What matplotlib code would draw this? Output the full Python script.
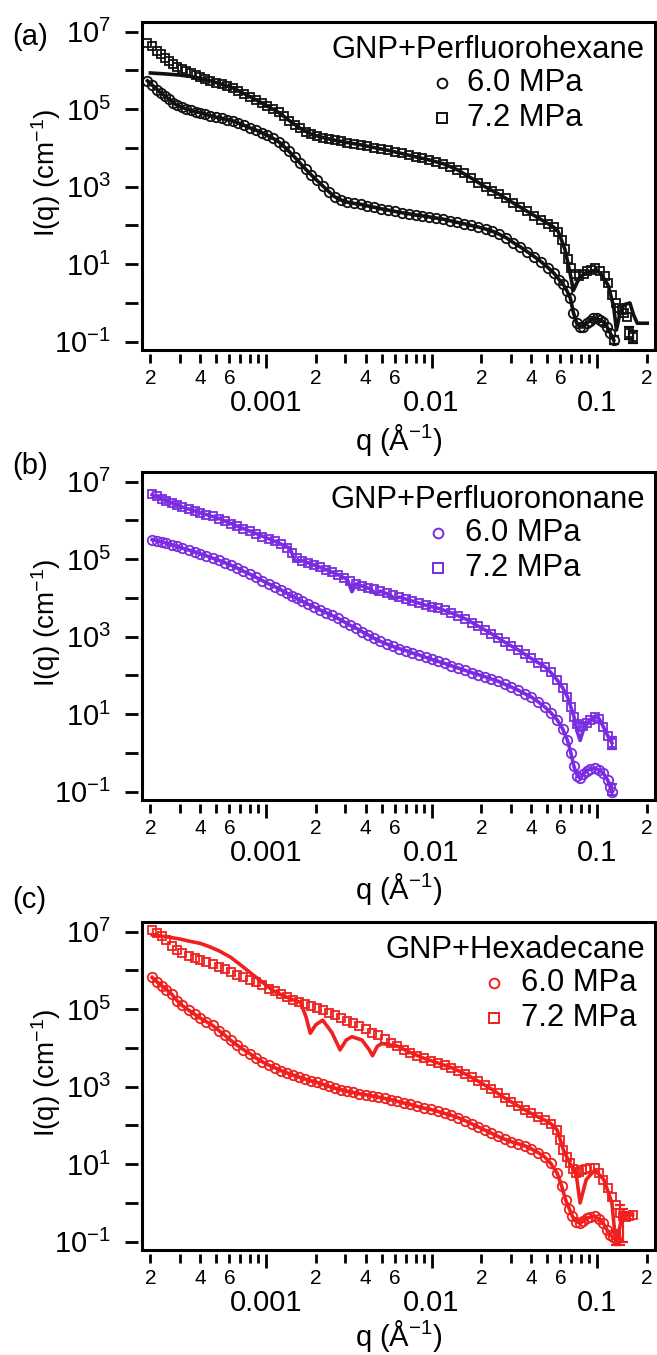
import numpy as np
import matplotlib
matplotlib.use("Agg")
import matplotlib.pyplot as plt
from matplotlib.ticker import FixedLocator, FixedFormatter, NullLocator
from matplotlib.patches import Rectangle

plt.rcParams['font.family'] = ['Liberation Sans', 'DejaVu Sans']
plt.rcParams['mathtext.fontset'] = 'custom'
plt.rcParams['mathtext.rm'] = 'Liberation Sans'
plt.rcParams['mathtext.it'] = 'Liberation Sans:italic'
plt.rcParams['mathtext.bf'] = 'Liberation Sans:bold'

# ======================= panel (a) GNP+Perfluorohexane =======================
a_q_72 = [1.92e-4, 2.05e-4, 2.2e-4, 2.32e-4, 2.45e-4, 2.6e-4, 2.75e-4, 2.9e-4, 3.1e-4, 3.3e-4,
          3.5e-4, 3.75e-4, 4.0e-4, 4.3e-4, 4.6e-4, 5.0e-4, 5.4e-4, 5.8e-4, 6.3e-4, 6.8e-4,
          7.4e-4, 8.0e-4, 8.7e-4, 9.4e-4, 1.02e-3, 1.10e-3, 1.19e-3, 1.28e-3, 1.38e-3, 1.49e-3,
          1.61e-3, 1.74e-3, 1.88e-3, 2.03e-3, 2.2e-3, 2.4e-3, 2.6e-3, 2.85e-3, 3.1e-3, 3.4e-3,
          3.75e-3, 4.1e-3, 4.5e-3, 4.95e-3, 5.45e-3, 6.0e-3, 6.6e-3, 7.3e-3, 8.0e-3, 8.8e-3,
          9.7e-3, 1.07e-2, 1.18e-2, 1.30e-2, 1.43e-2, 1.58e-2, 1.74e-2, 1.92e-2, 2.12e-2, 2.33e-2,
          2.57e-2, 2.83e-2, 3.12e-2, 3.44e-2, 3.79e-2, 4.17e-2, 4.6e-2, 5.07e-2, 5.5e-2, 5.83e-2,
          6.1e-2, 6.4e-2, 6.7e-2, 7.0e-2, 7.36e-2, 7.8e-2, 8.3e-2, 8.67e-2, 9.2e-2, 9.7e-2,
          0.104, 0.111, 0.117, 0.123, 0.131, 0.136, 0.141, 0.146, 0.151, 0.157, 0.166]
a_I_72 = [5.2e6, 4.2e6, 3.2e6, 2.6e6, 2.1e6, 1.74e6, 1.45e6, 1.26e6, 1.10e6, 9.5e5,
          8.7e5, 7.8e5, 6.9e5, 6.0e5, 5.4e5, 4.8e5, 4.4e5, 4.0e5, 3.55e5, 3.0e5,
          2.5e5, 2.1e5, 1.74e5, 1.48e5, 1.2e5, 1.0e5, 8.3e4, 6.6e4, 5.1e4, 4.0e4,
          3.2e4, 2.6e4, 2.24e4, 2.0e4, 1.86e4, 1.74e4, 1.58e4, 1.48e4, 1.38e4, 1.29e4,
          1.2e4, 1.12e4, 1.02e4, 9.3e3, 8.7e3, 7.9e3, 7.2e3, 6.6e3, 5.9e3, 5.4e3,
          4.9e3, 4.4e3, 3.9e3, 3.3e3, 2.75e3, 2.24e3, 1.66e3, 1.26e3, 9.8e2, 7.9e2,
          6.3e2, 5.0e2, 3.8e2, 3.0e2, 2.3e2, 1.78e2, 1.41e2, 1.12e2, 89, 69,
          42, 24, 14, 7.9, 5.5, 5.0, 5.5, 6.5, 7.2, 7.8,
          6.5, 5.0, 3.2, 1.6, 0.98, 0.76, 0.66, 0.55, 0.44, 0.17, 0.13]
a_fit_q_72 = [2.0e-4, 2.5e-4, 3.0e-4, 3.5e-4, 4.0e-4, 4.6e-4, 5.4e-4, 6.3e-4, 7.4e-4, 8.7e-4,
              1.02e-3, 1.19e-3, 1.38e-3, 1.61e-3, 1.88e-3, 2.2e-3, 2.6e-3, 3.1e-3, 3.75e-3, 4.5e-3,
              5.45e-3, 6.6e-3, 8.0e-3, 9.7e-3, 1.18e-2, 1.43e-2, 1.74e-2, 2.12e-2, 2.57e-2, 3.12e-2,
              3.79e-2, 4.6e-2, 5.5e-2, 5.83e-2, 6.1e-2, 6.4e-2, 6.85e-2, 7.2e-2, 7.6e-2, 8.0e-2,
              8.67e-2, 9.95e-2, 0.107, 0.117, 0.126, 0.131, 0.137, 0.145, 0.158, 0.166, 0.175, 0.201]
a_fit_I_72 = [8.6e5, 8.1e5, 7.6e5, 7.0e5, 6.3e5, 5.4e5, 4.4e5, 3.55e5, 2.5e5, 1.74e5,
              1.2e5, 8.3e4, 5.1e4, 3.2e4, 2.24e4, 1.86e4, 1.58e4, 1.38e4, 1.2e4, 1.02e4,
              8.7e3, 7.2e3, 5.9e3, 4.9e3, 3.9e3, 2.75e3, 1.66e3, 9.8e2, 6.3e2, 3.8e2,
              2.3e2, 1.41e2, 89, 69, 42, 24, 6.3, 2.1, 3.5, 4.8,
              6.3, 7.1, 5.2, 2.8, 0.8, 0.2, 0.5, 0.9, 1.0, 0.5, 0.3, 0.3]
a_q_60 = [1.92e-4, 2.05e-4, 2.2e-4, 2.32e-4, 2.45e-4, 2.6e-4, 2.75e-4, 2.9e-4, 3.1e-4, 3.3e-4,
          3.5e-4, 3.75e-4, 4.0e-4, 4.3e-4, 4.6e-4, 5.0e-4, 5.4e-4, 5.8e-4, 6.3e-4, 6.8e-4,
          7.4e-4, 8.0e-4, 8.7e-4, 9.4e-4, 1.02e-3, 1.10e-3, 1.19e-3, 1.28e-3, 1.38e-3, 1.49e-3,
          1.61e-3, 1.74e-3, 1.88e-3, 2.03e-3, 2.2e-3, 2.4e-3, 2.6e-3, 2.85e-3, 3.1e-3, 3.4e-3,
          3.75e-3, 4.1e-3, 4.5e-3, 4.95e-3, 5.45e-3, 6.0e-3, 6.6e-3, 7.3e-3, 8.0e-3, 8.8e-3,
          9.7e-3, 1.07e-2, 1.18e-2, 1.30e-2, 1.43e-2, 1.58e-2, 1.74e-2, 1.92e-2, 2.12e-2, 2.33e-2,
          2.57e-2, 2.83e-2, 3.12e-2, 3.44e-2, 3.79e-2, 4.17e-2, 4.6e-2, 5.07e-2, 5.5e-2, 5.9e-2,
          6.25e-2, 6.6e-2, 6.9e-2, 7.2e-2, 7.54e-2, 7.9e-2, 8.26e-2, 8.65e-2, 9.07e-2, 9.5e-2,
          9.95e-2, 0.104, 0.109, 0.115, 0.12, 0.126]
a_I_60 = [5.4e5, 4.2e5, 3.2e5, 2.6e5, 2.2e5, 1.78e5, 1.48e5, 1.26e5, 1.12e5, 1.02e5,
          9.3e4, 8.7e4, 8.1e4, 7.4e4, 6.8e4, 6.2e4, 5.8e4, 5.4e4, 5.0e4, 4.4e4,
          3.8e4, 3.3e4, 2.9e4, 2.5e4, 2.1e4, 1.78e4, 1.45e4, 1.1e4, 8.1e3, 5.8e3,
          4.0e3, 2.8e3, 2.0e3, 1.45e3, 1.05e3, 7.4e2, 5.5e2, 4.5e2, 4.0e2, 3.7e2,
          3.5e2, 3.2e2, 2.95e2, 2.7e2, 2.5e2, 2.3e2, 2.14e2, 2.0e2, 1.86e2, 1.78e2,
          1.66e2, 1.55e2, 1.45e2, 1.32e2, 1.2e2, 1.1e2, 1.0e2, 91, 81, 71,
          59, 48, 36, 28, 21, 15.8, 11.5, 8.1, 5.8, 4.0,
          3.0, 2.0, 1.32, 0.56, 0.30, 0.24, 0.24, 0.30, 0.35, 0.42,
          0.40, 0.36, 0.33, 0.24, 0.17, 0.11]
a_err_q = [0.126, 0.157, 0.166]
a_err_I = [0.11, 0.17, 0.13]
a_err_lo = [0.085, 0.12, 0.09]
a_err_hi = [0.14, 0.24, 0.19]

# ======================= panel (b) GNP+Perfluorononane =======================
b_q_72 = [2.05e-4, 2.2e-4, 2.35e-4, 2.5e-4, 2.7e-4, 2.9e-4, 3.1e-4, 3.4e-4, 3.7e-4, 4.0e-4,
          4.35e-4, 4.75e-4, 5.2e-4, 5.65e-4, 6.1e-4, 6.7e-4, 7.3e-4, 8.0e-4, 8.7e-4, 9.5e-4,
          1.04e-3, 1.13e-3, 1.23e-3, 1.33e-3, 1.43e-3, 1.53e-3, 1.66e-3, 1.8e-3, 1.95e-3, 2.12e-3,
          2.3e-3, 2.5e-3, 2.72e-3, 2.95e-3, 3.2e-3, 3.5e-3, 3.8e-3, 4.15e-3, 4.5e-3, 4.9e-3,
          5.35e-3, 5.85e-3, 6.4e-3, 7.0e-3, 7.65e-3, 8.4e-3, 9.2e-3, 1.0e-2, 1.1e-2, 1.2e-2,
          1.32e-2, 1.45e-2, 1.6e-2, 1.75e-2, 1.92e-2, 2.1e-2, 2.3e-2, 2.52e-2, 2.77e-2, 3.04e-2,
          3.33e-2, 3.65e-2, 4.0e-2, 4.4e-2, 4.82e-2, 5.25e-2, 5.75e-2, 6.2e-2, 6.63e-2, 6.95e-2,
          7.25e-2, 7.6e-2, 7.9e-2, 8.25e-2, 8.64e-2, 9.1e-2, 9.71e-2, 0.103, 0.109, 0.116, 0.123]
b_I_72 = [4.8e6, 4.2e6, 3.6e6, 3.2e6, 2.75e6, 2.45e6, 2.24e6, 2.0e6, 1.78e6, 1.58e6,
          1.41e6, 1.29e6, 1.12e6, 9.5e5, 8.3e5, 7.1e5, 6.0e5, 5.2e5, 4.6e5, 3.8e5,
          3.3e5, 2.9e5, 2.4e5, 2.0e5, 1.41e5, 1.05e5, 9.1e4, 7.9e4, 7.1e4, 6.2e4,
          5.4e4, 4.6e4, 4.0e4, 3.3e4, 2.75e4, 2.3e4, 2.04e4, 1.82e4, 1.66e4, 1.48e4,
          1.32e4, 1.17e4, 1.05e4, 9.3e3, 8.3e3, 7.2e3, 6.5e3, 5.9e3, 5.4e3, 4.8e3,
          4.1e3, 3.5e3, 2.9e3, 2.3e3, 1.86e3, 1.48e3, 1.2e3, 9.5e2, 7.2e2, 5.8e2,
          4.6e2, 3.55e2, 2.75e2, 2.14e2, 1.7e2, 1.2e2, 76, 48, 28, 15.8,
          8.7, 5.6, 4.8, 5.0, 5.8, 7.2, 8.7, 7.6, 4.8, 2.8, 1.8]
b_fit_q_72 = [2.05e-4, 2.5e-4, 3.1e-4, 4.0e-4, 5.2e-4, 6.7e-4, 8.7e-4, 1.13e-3, 1.33e-3, 1.4e-3,
              1.48e-3, 1.66e-3, 1.95e-3, 2.3e-3, 2.72e-3, 3.1e-3, 3.3e-3, 3.5e-3, 3.8e-3, 4.3e-3,
              4.6e-3, 4.9e-3, 5.6e-3, 6.0e-3, 6.4e-3, 7.65e-3, 9.2e-3, 1.1e-2, 1.32e-2, 1.6e-2,
              1.92e-2, 2.3e-2, 2.77e-2, 3.33e-2, 4.0e-2, 4.82e-2, 5.25e-2, 5.75e-2, 6.2e-2, 6.63e-2,
              7.25e-2, 7.6e-2, 7.9e-2, 8.25e-2, 8.64e-2, 9.71e-2, 0.103, 0.109, 0.116, 0.123]
b_fit_I_72 = [4.6e6, 3.2e6, 2.24e6, 1.58e6, 1.12e6, 7.1e5, 4.6e5, 2.9e5, 2.1e5, 1.9e5,
              9.5e4, 9.1e4, 7.1e4, 5.4e4, 4.0e4, 3.0e4, 1.45e4, 2.3e4, 2.04e4, 1.7e4,
              1.25e4, 1.5e4, 1.2e4, 9.5e3, 1.05e4, 8.3e3, 6.5e3, 5.4e3, 4.1e3, 2.9e3,
              1.86e3, 1.2e3, 7.2e2, 4.6e2, 2.75e2, 1.7e2, 1.2e2, 76, 48, 28,
              8.7, 3.5, 2.1, 3.8, 5.8, 8.7, 7.6, 4.8, 2.8, 1.8]
b_q_60 = [2.05e-4, 2.2e-4, 2.35e-4, 2.5e-4, 2.7e-4, 2.9e-4, 3.1e-4, 3.4e-4, 3.7e-4, 4.0e-4,
          4.35e-4, 4.75e-4, 5.2e-4, 5.65e-4, 6.1e-4, 6.7e-4, 7.3e-4, 8.0e-4, 8.7e-4, 9.5e-4,
          1.04e-3, 1.13e-3, 1.23e-3, 1.33e-3, 1.43e-3, 1.53e-3, 1.66e-3, 1.8e-3, 1.95e-3, 2.12e-3,
          2.3e-3, 2.5e-3, 2.72e-3, 2.95e-3, 3.2e-3, 3.5e-3, 3.8e-3, 4.15e-3, 4.5e-3, 4.9e-3,
          5.35e-3, 5.85e-3, 6.4e-3, 7.0e-3, 7.65e-3, 8.4e-3, 9.2e-3, 1.0e-2, 1.1e-2, 1.2e-2,
          1.32e-2, 1.45e-2, 1.6e-2, 1.75e-2, 1.92e-2, 2.1e-2, 2.3e-2, 2.52e-2, 2.77e-2, 3.04e-2,
          3.33e-2, 3.65e-2, 4.0e-2, 4.4e-2, 4.82e-2, 5.25e-2, 5.75e-2, 6.2e-2, 6.63e-2, 6.95e-2,
          7.25e-2, 7.6e-2, 7.9e-2, 8.25e-2, 8.64e-2, 9.1e-2, 9.71e-2, 0.103, 0.109, 0.116, 0.12, 0.123]
b_I_60 = [3.2e5, 2.95e5, 2.75e5, 2.6e5, 2.34e5, 2.14e5, 1.95e5, 1.74e5, 1.55e5, 1.38e5,
          1.23e5, 1.07e5, 9.3e4, 8.1e4, 7.1e4, 5.9e4, 4.9e4, 4.1e4, 3.4e4, 2.8e4,
          2.3e4, 1.95e4, 1.62e4, 1.35e4, 1.12e4, 9.8e3, 8.1e3, 6.9e3, 5.9e3, 4.9e3,
          4.2e3, 3.55e3, 2.95e3, 2.45e3, 2.0e3, 1.66e3, 1.35e3, 1.1e3, 9.1e2, 7.6e2,
          6.5e2, 5.6e2, 4.9e2, 4.4e2, 3.8e2, 3.4e2, 2.95e2, 2.6e2, 2.3e2, 2.04e2,
          1.78e2, 1.55e2, 1.35e2, 1.17e2, 1.05e2, 93, 81, 71, 59, 50,
          42, 34, 28, 21, 15.5, 11, 7.1, 4.2, 2.1, 1.0,
          0.45, 0.26, 0.22, 0.28, 0.35, 0.38, 0.40, 0.36, 0.30, 0.20, 0.135, 0.10]
b_err_q = [0.123, 0.123]
b_err_I = [0.10, 1.8]
b_err_lo = [0.08, 1.25]
b_err_hi = [0.16, 2.6]

# ======================= panel (c) GNP+Hexadecane =======================
c_q_72 = [2.05e-4, 2.2e-4, 2.35e-4, 2.5e-4, 2.7e-4, 2.9e-4, 3.1e-4, 3.4e-4, 3.7e-4, 4.0e-4,
          4.35e-4, 4.75e-4, 5.2e-4, 5.65e-4, 6.1e-4, 6.7e-4, 7.3e-4, 8.0e-4, 8.7e-4, 9.5e-4,
          1.04e-3, 1.13e-3, 1.23e-3, 1.33e-3, 1.45e-3, 1.58e-3, 1.72e-3, 1.87e-3, 2.03e-3, 2.2e-3,
          2.4e-3, 2.62e-3, 2.85e-3, 3.1e-3, 3.35e-3, 3.65e-3, 4.0e-3, 4.35e-3, 4.75e-3, 5.2e-3,
          5.7e-3, 6.2e-3, 6.8e-3, 7.45e-3, 8.2e-3, 9.0e-3, 9.9e-3, 1.09e-2, 1.2e-2, 1.32e-2,
          1.45e-2, 1.6e-2, 1.75e-2, 1.92e-2, 2.1e-2, 2.3e-2, 2.52e-2, 2.77e-2, 3.04e-2, 3.33e-2,
          3.65e-2, 4.0e-2, 4.4e-2, 4.82e-2, 5.25e-2, 5.75e-2, 6.0e-2, 6.27e-2, 6.55e-2, 6.85e-2,
          7.15e-2, 7.47e-2, 7.8e-2, 8.15e-2, 8.6e-2, 9.1e-2, 9.71e-2, 0.103, 0.109, 0.116,
          0.123, 0.13, 0.138, 0.144, 0.15, 0.157, 0.164]
c_I_72 = [1.12e7, 9.5e6, 7.6e6, 6.0e6, 4.4e6, 3.3e6, 2.8e6, 2.4e6, 2.1e6, 1.82e6,
          1.62e6, 1.45e6, 1.26e6, 1.07e6, 9.3e5, 7.8e5, 6.6e5, 5.8e5, 4.9e5, 4.1e5,
          3.4e5, 2.9e5, 2.4e5, 2.04e5, 1.74e5, 1.51e5, 1.35e5, 1.2e5, 1.07e5, 9.3e4,
          8.1e4, 7.1e4, 6.0e4, 5.0e4, 4.3e4, 3.6e4, 3.0e4, 2.5e4, 2.1e4, 1.7e4,
          1.38e4, 1.12e4, 9.1e3, 7.6e3, 6.3e3, 5.4e3, 4.7e3, 4.1e3, 3.55e3, 3.1e3,
          2.6e3, 2.14e3, 1.74e3, 1.38e3, 1.1e3, 8.7e2, 6.8e2, 5.1e2, 4.1e2, 3.2e2,
          2.5e2, 2.04e2, 1.66e2, 1.38e2, 1.12e2, 76, 42, 23, 15, 10.5,
          7.6, 5.8, 6.3, 7.1, 7.4, 7.8, 7.8, 6.0, 3.9, 2.4,
          1.45, 0.89, 0.54, 0.46, 0.44, 0.47, 0.49]
c_fit_q_72 = [2.05e-4, 2.5e-4, 3.0e-4, 3.5e-4, 4.0e-4, 4.55e-4, 5.2e-4, 6.1e-4, 7.0e-4, 8.15e-4,
              9.5e-4, 1.09e-3, 1.25e-3, 1.46e-3, 1.62e-3, 1.75e-3, 1.85e-3, 2.0e-3, 2.2e-3, 2.5e-3,
              2.8e-3, 3.05e-3, 3.3e-3, 3.8e-3, 4.2e-3, 4.4e-3, 4.7e-3, 5.0e-3, 6.2e-3, 7.45e-3,
              9.0e-3, 1.09e-2, 1.32e-2, 1.6e-2, 1.92e-2, 2.3e-2, 2.77e-2, 3.33e-2, 4.0e-2, 4.82e-2,
              5.25e-2, 5.75e-2, 6.0e-2, 6.27e-2, 6.85e-2, 7.47e-2, 7.9e-2, 8.6e-2, 9.71e-2, 0.11,
              0.123, 0.13, 0.14, 0.15, 0.164]
c_fit_I_72 = [8.3e6, 7.4e6, 6.5e6, 5.6e6, 5.0e6, 4.1e6, 3.2e6, 2.2e6, 1.4e6, 8.3e5,
              5.0e5, 3.1e5, 2.3e5, 1.74e5, 1.5e5, 6.0e4, 2.4e4, 4.0e4, 5.2e4, 2.5e4,
              8.9e3, 1.6e4, 1.95e4, 1.6e4, 9.0e3, 6.3e3, 1.1e4, 1.3e4, 1.12e4, 7.6e3,
              5.4e3, 4.1e3, 3.1e3, 2.14e3, 1.38e3, 8.7e2, 5.1e2, 3.2e2, 2.04e2, 1.38e2,
              1.12e2, 76, 42, 23, 10.5, 5.8, 1.0, 4.0, 7.1, 4.0,
              1.0, 0.085, 0.35, 0.5, 0.49]
c_q_60 = [2.05e-4, 2.2e-4, 2.35e-4, 2.5e-4, 2.7e-4, 2.9e-4, 3.1e-4, 3.4e-4, 3.7e-4, 4.0e-4,
          4.35e-4, 4.75e-4, 5.2e-4, 5.65e-4, 6.1e-4, 6.7e-4, 7.3e-4, 8.0e-4, 8.7e-4, 9.5e-4,
          1.04e-3, 1.13e-3, 1.23e-3, 1.33e-3, 1.45e-3, 1.58e-3, 1.72e-3, 1.87e-3, 2.03e-3, 2.2e-3,
          2.4e-3, 2.62e-3, 2.85e-3, 3.1e-3, 3.35e-3, 3.65e-3, 4.0e-3, 4.35e-3, 4.75e-3, 5.2e-3,
          5.7e-3, 6.2e-3, 6.8e-3, 7.45e-3, 8.2e-3, 9.0e-3, 9.9e-3, 1.09e-2, 1.2e-2, 1.32e-2,
          1.45e-2, 1.6e-2, 1.75e-2, 1.92e-2, 2.1e-2, 2.3e-2, 2.52e-2, 2.77e-2, 3.04e-2, 3.33e-2,
          3.65e-2, 4.0e-2, 4.4e-2, 4.82e-2, 5.25e-2, 5.75e-2, 6.1e-2, 6.46e-2, 6.8e-2, 7.1e-2,
          7.5e-2, 7.9e-2, 8.25e-2, 8.64e-2, 9.1e-2, 9.71e-2, 0.103, 0.109, 0.115, 0.12, 0.125, 0.13]
c_I_60 = [6.6e5, 5.0e5, 4.0e5, 3.2e5, 2.4e5, 1.66e5, 1.26e5, 9.5e4, 7.4e4, 5.9e4,
          4.8e4, 3.8e4, 2.8e4, 2.1e4, 1.58e4, 1.17e4, 9.1e3, 7.1e3, 5.5e3, 4.4e3,
          3.6e3, 3.1e3, 2.6e3, 2.3e3, 2.0e3, 1.78e3, 1.58e3, 1.41e3, 1.29e3, 1.15e3,
          1.02e3, 9.1e2, 8.3e2, 7.6e2, 7.1e2, 6.6e2, 6.2e2, 5.8e2, 5.4e2, 5.0e2,
          4.6e2, 4.2e2, 3.8e2, 3.5e2, 3.1e2, 2.8e2, 2.6e2, 2.3e2, 2.04e2, 1.82e2,
          1.58e2, 1.32e2, 1.1e2, 91, 76, 63, 52, 44, 38, 34,
          30, 25, 20, 15.5, 10.5, 5.8, 2.8, 1.2, 0.71, 0.45,
          0.33, 0.30, 0.34, 0.40, 0.43, 0.45, 0.38, 0.30, 0.20, 0.15, 0.13, 0.12]
c_err_q = [0.13, 0.138, 0.144]
c_err_I = [0.12, 0.54, 0.46]
c_err_lo = [0.08, 0.08, 0.1]
c_err_hi = [0.2, 0.9, 0.7]

panel_titles = ["GNP+Perfluorohexane", "GNP+Perfluorononane", "GNP+Hexadecane"]
panel_letters = ["(a)", "(b)", "(c)"]
series_labels = ["6.0 MPa", "7.2 MPa"]
colors = ["#111111", "#7a2de0", "#f0201e"]

panels = [
    (a_q_60, a_I_60, a_q_72, a_I_72, a_q_60, a_I_60, a_fit_q_72, a_fit_I_72,
     a_err_q, a_err_I, a_err_lo, a_err_hi),
    (b_q_60, b_I_60, b_q_72, b_I_72, b_q_60, b_I_60, b_fit_q_72, b_fit_I_72,
     b_err_q, b_err_I, b_err_lo, b_err_hi),
    (c_q_60, c_I_60, c_q_72, c_I_72, c_q_60, c_I_60, c_fit_q_72, c_fit_I_72,
     c_err_q, c_err_I, c_err_lo, c_err_hi),
]

# ======================= layout =======================
W, H = 657, 1355
fig = plt.figure(figsize=(W / 100, H / 100), dpi=100)

ax_left, ax_right = 142, 655
box_tops = [21.7, 471.7, 921.7]
box_h = 328.3
letter_y = [37, 466, 900]
xlabel_off = [90, 89, 86]
legend_pos = [(0.585, 0.634), (0.577, 0.630), (0.686, 0.739)]

xmin, xmax = 1.78e-4, 0.224
ymin, ymax = 10 ** -1.214, 10 ** 7.258

major_x = [1e-3, 1e-2, 1e-1]
major_x_labels = ["0.001", "0.01", "0.1"]
minor_x = []
minor_x_labels = []
for e in range(-4, 0):
    for k in range(2, 10):
        v = k * 10.0 ** e
        if xmin <= v <= xmax:
            minor_x.append(v)
            minor_x_labels.append(str(k) if k in (2, 4, 6) else "")
major_y = [10.0 ** e for e in range(-1, 8)]
major_y_labels = [(r"$10^{%d}$" % e) if e % 2 == 1 else "" for e in range(-1, 8)]

FS = 21
LFS = 22.3
for i, (q60, I60, q72, I72, fq60, fI60, fq72, fI72, eq, eI, elo, ehi) in enumerate(panels):
    top = box_tops[i]
    bottom = top + box_h
    ax = fig.add_axes([ax_left / W, 1 - bottom / H, (ax_right - ax_left) / W, box_h / H])
    col = colors[i]
    ax.plot(q60, I60, linestyle='none', marker='o', ms=6.8, mfc='none', mec=col, mew=1.3, zorder=2)
    ax.plot(q72, I72, linestyle='none', marker='s', ms=6.4, mfc='none', mec=col, mew=1.3, zorder=2)
    ax.errorbar(eq, eI, yerr=[np.array(eI) - np.array(elo), np.array(ehi) - np.array(eI)],
                fmt='none', ecolor=col, elinewidth=1.6, capsize=3.5, capthick=1.6, zorder=2)
    ax.plot(fq60, fI60, color=col, lw=2.6, zorder=3)
    ax.plot(fq72, fI72, color=col, lw=2.6, zorder=3)

    ax.set_xscale('log')
    ax.set_yscale('log')
    ax.set_xlim(xmin, xmax)
    ax.set_ylim(ymin, ymax)

    ax.xaxis.set_major_locator(FixedLocator(major_x))
    ax.xaxis.set_major_formatter(FixedFormatter(major_x_labels))
    ax.xaxis.set_minor_locator(FixedLocator(minor_x))
    ax.xaxis.set_minor_formatter(FixedFormatter(minor_x_labels))
    ax.yaxis.set_major_locator(FixedLocator(major_y))
    ax.yaxis.set_major_formatter(FixedFormatter(major_y_labels))
    ax.yaxis.set_minor_locator(NullLocator())

    for s in ['top', 'right']:
        ax.spines[s].set_visible(False)
    ax.spines['left'].set_position(('outward', 3))
    ax.spines['bottom'].set_position(('outward', 3))
    ax.spines['left'].set_color('none')
    ax.spines['bottom'].set_color('none')
    ax.add_patch(Rectangle((0, 0), 1, 1, transform=ax.transAxes, fill=False,
                           lw=2.2, ec='black', clip_on=False, zorder=5))

    ax.tick_params(axis='x', which='major', direction='out', length=10, width=2,
                   labelsize=FS, pad=15)
    ax.tick_params(axis='x', which='minor', direction='out', length=6.5, width=2,
                   labelsize=15, pad=4.5)
    ax.tick_params(axis='y', which='major', direction='out', length=9.5, width=2,
                   labelsize=FS, pad=10)

    ax.text(0.5, -xlabel_off[i] / box_h, r"q ($\mathrm{\AA}^{-1}$)", transform=ax.transAxes,
            ha='center', va='center', fontsize=FS)
    ax.text(-96 / 513, 1 - (151 / box_h), r"I(q) (cm$^{-1}$)", transform=ax.transAxes,
            ha='center', va='center', rotation=90, fontsize=20)
    fig.text(12 / W, 1 - letter_y[i] / H, panel_letters[i], ha='left', va='center',
             fontsize=FS)

    # legend block
    ax.text(0.9805, 1 - 28.3 / box_h, panel_titles[i], transform=ax.transAxes,
            ha='right', va='center', fontsize=LFS)
    mx, tx = legend_pos[i]
    ax.plot([mx], [1 - 61.5 / box_h], transform=ax.transAxes, marker='o', ms=7,
            mfc='none', mec=col, mew=1.4, clip_on=False, zorder=6)
    ax.plot([mx], [1 - 96 / box_h], transform=ax.transAxes, marker='s', ms=7,
            mfc='none', mec=col, mew=1.4, clip_on=False, zorder=6)
    ax.text(tx, 1 - 61.5 / box_h, series_labels[0], transform=ax.transAxes,
            ha='left', va='center', fontsize=LFS)
    ax.text(tx, 1 - 96 / box_h, series_labels[1], transform=ax.transAxes,
            ha='left', va='center', fontsize=LFS)

fig.savefig("out.png", dpi=100)
